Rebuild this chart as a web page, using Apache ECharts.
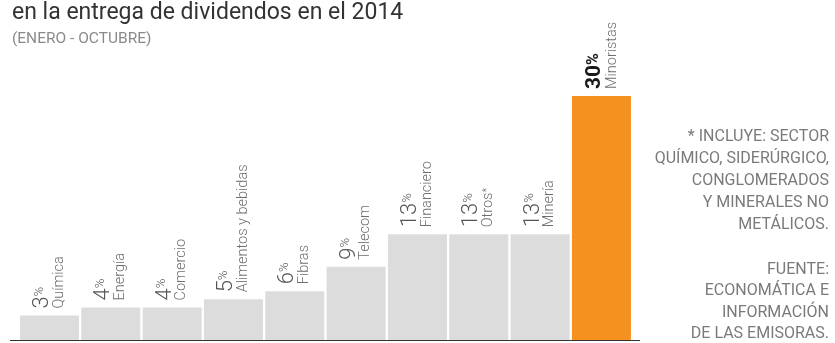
<!DOCTYPE html>
<html>
<head>
<meta charset="utf-8">
<script src="https://cdn.jsdelivr.net/npm/echarts@6/dist/echarts.min.js"></script>
<style>
html,body{margin:0;padding:0;background:#fff;}
#c{width:835px;height:343px;}
</style>
</head>
<body>
<div id="c"></div>
<script>
const categories = ["Química", "Energía", "Comercio", "Alimentos y bebidas", "Fibras", "Telecom", "Financiero", "Otros*", "Minería", "Minoristas"];
const values = [3, 4, 4, 5, 6, 9, 13, 13, 13, 30];
const highlightIndex = 9;
const titleText = "en la entrega de dividendos en el 2014";
const subtitleText = "(ENERO - OCTUBRE)";
const noteLines = ["* INCLUYE: SECTOR", "QUÍMICO, SIDERÚRGICO,", "CONGLOMERADOS", "Y MINERALES NO", "METÁLICOS."];
const sourceLines = ["FUENTE:", "ECONOMÁTICA E", "INFORMACIÓN", "DE LAS EMISORAS."];

const chart = echarts.init(document.getElementById('c'));
const FONT = 'Roboto, "Noto Sans", sans-serif';

function labelFormatter(p) {
  const i = p.dataIndex;
  let name = categories[i];
  if (name.endsWith('*')) name = '{nm|' + name.slice(0, -1) + '}{ast|*}';
  else name = '{nm|' + name + '}';
  if (i === highlightIndex) return '{nb|' + values[i] + '}{pb|%}\n' + name;
  return '{n|' + values[i] + '}{p|%}\n' + name;
}

chart.setOption({
  animation: false,
  backgroundColor: '#ffffff',
  grid: { left: 18.8, right: 202.9, top: 14.7, bottom: 3, containLabel: false },
  xAxis: {
    type: 'category',
    data: categories,
    axisLine: { show: false },
    axisTick: { show: false },
    axisLabel: { show: false }
  },
  yAxis: {
    type: 'value', min: 0, max: 40,
    show: false,
    splitLine: { show: false }
  },
  series: [{
    type: 'bar',
    barWidth: 59,
    data: values.map((v, i) => ({
      value: v,
      itemStyle: { color: i === highlightIndex ? '#f5921f' : '#dcdcdc' }
    })),
    label: {
      show: true,
      position: 'top',
      distance: 10,
      rotate: 90,
      align: 'left',
      verticalAlign: 'middle',
      offset: [-3, 0],
      formatter: labelFormatter,
      rich: {
        n: { fontFamily: FONT, fontSize: 22, fontWeight: 300, color: '#555555', lineHeight: 19 },
        p: { fontFamily: FONT, fontSize: 13, fontWeight: 300, color: '#555555', lineHeight: 19, verticalAlign: 'top' },
        nb: { fontFamily: FONT, fontSize: 21, fontWeight: 'bold', color: '#1a1a1a', lineHeight: 21 },
        pb: { fontFamily: FONT, fontSize: 16, fontWeight: 'bold', color: '#1a1a1a', lineHeight: 21 },
        nm: { fontFamily: FONT, fontSize: 14.5, fontWeight: 300, color: '#6e6e6e', lineHeight: 14 },
        ast: { fontFamily: FONT, fontSize: 11, fontWeight: 300, color: '#6e6e6e', lineHeight: 14, verticalAlign: 'top' }
      }
    }
  }],
  graphic: [
    { type: 'text', left: 12, top: 2, style: { text: titleText, font: '400 23px ' + FONT, fill: '#333333' } },
    { type: 'text', left: 12, top: 31, style: { text: subtitleText, font: '400 15.5px ' + FONT, fill: '#8a8a8a' } },
    { type: 'text', x: 829, y: 126, style: { text: noteLines.join('\n'), font: '400 16px ' + FONT, fill: '#7a7a7a', align: 'right', verticalAlign: 'top', lineHeight: 22 } },
    { type: 'text', x: 829, y: 259, style: { text: sourceLines.join('\n'), font: '400 16px ' + FONT, fill: '#7a7a7a', align: 'right', verticalAlign: 'top', lineHeight: 21.5 } },
    { type: 'line', shape: { x1: 10, y1: 340.5, x2: 640, y2: 340.5 }, style: { stroke: '#333333', lineWidth: 1 } }
  ]
});
</script>
</body>
</html>
